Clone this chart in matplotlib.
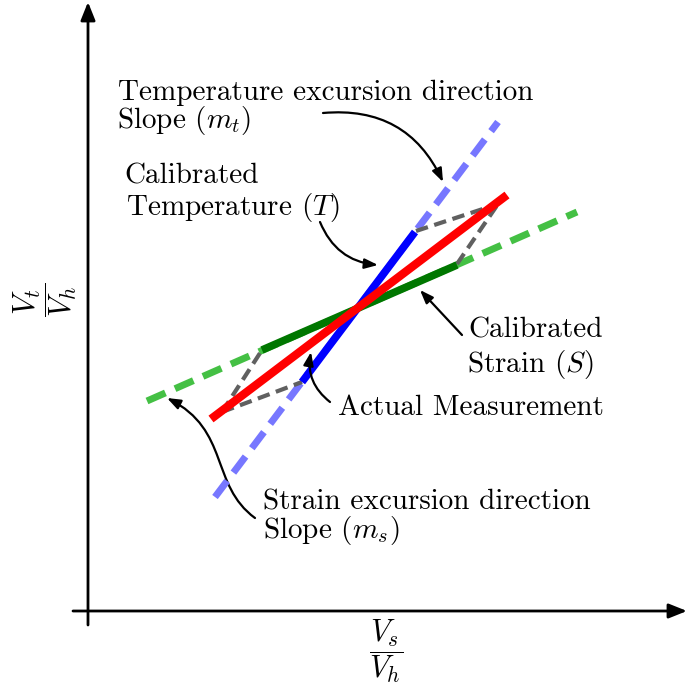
import numpy as np
import matplotlib.pyplot as plt
from matplotlib.patches import FancyArrowPatch
from matplotlib.path import Path

plt.rcParams.update({
    "font.family": "serif",
    "font.serif": ["cmr10", "DejaVu Serif"],
    "mathtext.fontset": "cm",
    "axes.unicode_minus": False,
})

# coordinates in the V_s/V_h - V_t/V_h plane (origin at the axes crossing)
temp_dir_x = [127, 410]      # temperature excursion direction (dashed)
temp_dir_y = [114, 489]
temp_cal_x = [214, 327]      # calibrated temperature (solid)
temp_cal_y = [229, 379]
strain_dir_x = [59, 489]     # strain excursion direction (dashed)
strain_dir_y = [210, 399]
strain_cal_x = [174, 369]    # calibrated strain (solid)
strain_cal_y = [261, 346]
meas_x = [123, 419]          # actual measurement
meas_y = [192, 416]
# parallelogram construction lines
guide_x = [[134, 174], [134, 214], [328, 410], [369, 410]]
guide_y = [[199, 261], [199, 229], [380, 407], [347, 407]]

fig = plt.figure(figsize=(6.87, 6.92), dpi=100)
ax = fig.add_axes([0, 0, 1, 1])
ax.set_xlim(-88, 599)
ax.set_ylim(-81, 611)
ax.axis("off")

# axes arrows
akw = dict(arrowstyle="-|>,head_length=0.55,head_width=0.22", lw=2, color="black",
           shrinkA=0, shrinkB=0, mutation_scale=20)
ax.annotate("", xy=(0, 609), xytext=(0, -14), arrowprops=akw)
ax.annotate("", xy=(599, 0), xytext=(-15, 0), arrowprops=akw)

ax.plot(temp_dir_x, temp_dir_y, color="#7777ff", lw=5, dashes=(2.9, 1.5), zorder=2)
ax.plot(strain_dir_x, strain_dir_y, color="#44c044", lw=5, dashes=(2.9, 1.5), zorder=2)
for gx, gy in zip(guide_x, guide_y):
    ax.plot(gx, gy, color="#606060", lw=3, dashes=(3.0, 1.6), zorder=2)
ax.plot(temp_cal_x, temp_cal_y, color="#0000ff", lw=5.5, solid_capstyle="butt", zorder=3)
ax.plot(strain_cal_x, strain_cal_y, color="#007700", lw=5.5, solid_capstyle="butt", zorder=3)
ax.plot(meas_x, meas_y, color="#ff0000", lw=6, solid_capstyle="butt", zorder=4)

fs = 21
def line(x, y, s):
    ax.text(x, y, s, fontsize=fs, ha="left", va="baseline")

line(30, 511, "Temperature excursion direction")
line(29, 483, r"Slope ($m_t$)")
line(36, 428, "Calibrated")
line(38, 396, r"Temperature ($T$)")
line(380, 274, "Calibrated")
line(379, 239, r"Strain ($S$)")
line(250, 196, "Actual Measurement")
line(175, 101, "Strain excursion direction")
line(175, 73, r"Slope ($m_s$)")

ax.text(298, -40, r"$\dfrac{V_s}{V_h}$", fontsize=22, ha="center", va="center")
ax.text(-43, 311, r"$\dfrac{V_t}{V_h}$", fontsize=22, ha="center", va="center",
        rotation=90)

# annotation arrows
ann = dict(arrowstyle="-|>,head_length=0.4,head_width=0.15", lw=1.6, color="black",
           shrinkA=0, shrinkB=0, mutation_scale=20)
ax.annotate("", xy=(355, 429), xytext=(235, 498),
            arrowprops=dict(ann, connectionstyle="arc3,rad=-0.35"))
ax.annotate("", xy=(290, 346), xytext=(232, 389),
            arrowprops=dict(ann, connectionstyle="arc3,rad=0.3"))
ax.annotate("", xy=(332, 321), xytext=(374, 276),
            arrowprops=dict(ann, connectionstyle="arc3,rad=0"))
ax.annotate("", xy=(223, 259), xytext=(242, 209),
            arrowprops=dict(ann, connectionstyle="arc3,rad=-0.3"))
s_path = Path([(167, 93), (122, 126), (142, 181), (79, 213)],
              [Path.MOVETO, Path.CURVE4, Path.CURVE4, Path.CURVE4])
ax.add_patch(FancyArrowPatch(path=s_path, **ann))

fig.savefig("out.png", dpi=100)
